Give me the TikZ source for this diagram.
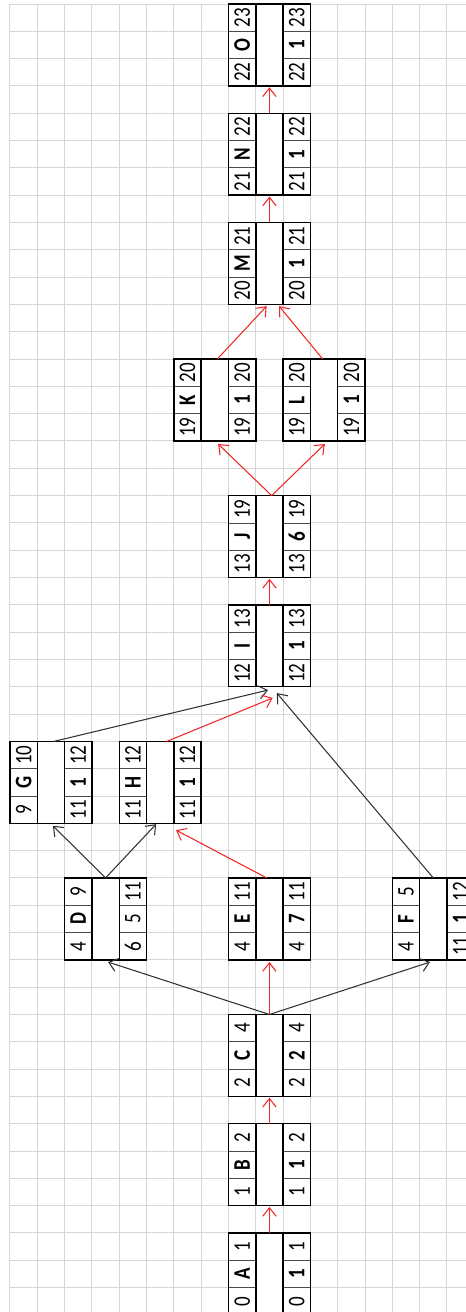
\documentclass[tikz,border=0pt]{standalone}
\usepackage{fontspec}
\setmainfont{Carlito}
\usetikzlibrary{arrows.meta,calc}
\definecolor{critred}{RGB}{240,40,40}
\definecolor{gridgray}{RGB}{214,214,214}
\newcommand\vt[1]{\scalebox{0.92}[1.15]{#1}}
\newcommand\actbox[9]{%
  \node[actbox] (#1) at (#2+1.5,#3+1.5) {};
  \draw[innerthin] (#2,#3+1) -- (#2+1,#3+1) (#2,#3+2) -- (#2+1,#3+2)
                   (#2+2,#3+1) -- (#2+3,#3+1) (#2+2,#3+2) -- (#2+3,#3+2);
  \draw[innerthick] (#2+1,#3) -- (#2+1,#3+3) (#2+2,#3) -- (#2+2,#3+3);
  \draw[outerline] (#1.north west) rectangle (#1.south east);
  \node[val] (#1-es) at (#2+0.5,#3+2.5) {\vt{#4}};
  \node[val,font=\valfont\bfseries] (#1-nm) at (#2+0.5,#3+1.5) {\vt{#1}};
  \node[val] (#1-ef) at (#2+0.5,#3+0.5) {\vt{#5}};
  \node[val] (#1-ls) at (#2+2.5,#3+2.5) {\vt{#6}};
  \node[val,#9] (#1-du) at (#2+2.5,#3+1.5) {\vt{#7}};
  \node[val] (#1-lf) at (#2+2.5,#3+0.5) {\vt{#8}};
}
\newcommand\valfont{\fontsize{15.5}{15.5}\selectfont}
\begin{document}
\begin{tikzpicture}[x=20.4825pt,y=-20.4825pt,
  gridline/.style={draw=gridgray,line width=0.75pt},
  actbox/.style={fill=white,draw=none,minimum width=61.4475pt,minimum height=61.4475pt,inner sep=0pt,outer sep=0pt},
  outerline/.style={draw=black,line width=1.1pt},
  innerthick/.style={draw=black,line width=1.1pt},
  innerthin/.style={draw=black!70,line width=0.6pt},
  val/.style={rotate=90,inner sep=0pt,font=\valfont},
  bold/.style={font=\valfont\bfseries},
  plain/.style={},
  crit/.style={draw=critred,line width=0.8pt,-{Straight Barb[length=6.3pt,width=10pt,line width=0.8pt]}},
  norm/.style={draw=black!80,line width=0.8pt,-{Straight Barb[length=6.3pt,width=10pt,line width=0.8pt]}}]
\useasboundingbox (-0.36617,-0.14647) rectangle (16.6972,47.8946);
% grid
\foreach \k in {0,...,16} \draw[gridline] (\k,0) -- (\k,47.9);
\foreach \j in {0,...,47} \draw[gridline] (0,\j) -- (16.7,\j);
% boxes
\actbox{A}{8}{45}{0}{1}{0}{1}{1}{bold}
\actbox{B}{8}{41}{1}{2}{1}{1}{2}{bold}
\actbox{C}{8}{37}{2}{4}{2}{2}{4}{bold}
\actbox{D}{2}{32}{4}{9}{6}{5}{11}{plain}
\actbox{E}{8}{32}{4}{11}{4}{7}{11}{bold}
\actbox{F}{14}{32}{4}{5}{11}{1}{12}{bold}
\actbox{G}{0}{27}{9}{10}{11}{1}{12}{bold}
\actbox{H}{4}{27}{11}{12}{11}{1}{12}{bold}
\actbox{I}{8}{22}{12}{13}{12}{1}{13}{bold}
\actbox{J}{8}{18}{13}{19}{13}{6}{19}{bold}
\actbox{K}{6}{13}{19}{20}{19}{1}{20}{bold}
\actbox{L}{10}{13}{19}{20}{19}{1}{20}{bold}
\actbox{M}{8}{8}{20}{21}{20}{1}{21}{bold}
\actbox{N}{8}{4}{21}{22}{21}{1}{22}{bold}
\actbox{O}{8}{0}{22}{23}{22}{1}{23}{bold}
% connector end points
\coordinate (cd) at (3.59,35.08);
\coordinate (ce) at (9.5,35.08);
\coordinate (cf) at (15.38,35.08);
\coordinate (dg) at (1.57,30.09);
\coordinate (dh) at (5.35,30.03);
\coordinate (eh0) at (9.4,32);
\coordinate (eh) at (6.08,30.25);
\coordinate (gi0) at (1.61,27);
\coordinate (gi) at (9.45,25.12);
\coordinate (hi0) at (5.74,27);
\coordinate (hi) at (9.62,25.41);
\coordinate (fi) at (9.77,25.23);
\coordinate (j0) at (9.58,18);
\coordinate (jk) at (7.62,16.11);
\coordinate (jl) at (11.53,16.11);
\coordinate (km0) at (7.59,13);
\coordinate (km) at (9.4,11.06);
\coordinate (lm0) at (11.45,13);
\coordinate (lm) at (9.85,11.06);
% connectors
\draw[crit,shorten >=1pt] (A.north) -- (B.south);
\draw[crit,shorten >=1pt] (B.north) -- (C.south);
\draw[norm] (C.north) -- (cd);
\draw[crit] (C.north) -- (ce);
\draw[norm] (C.north) -- (cf);
\draw[norm] (D.north) -- (dg);
\draw[norm] (D.north) -- (dh);
\draw[crit] (eh0) -- (eh);
\draw[norm] (gi0) -- (gi);
\draw[crit] (hi0) -- (hi);
\draw[norm] (F.north) -- (fi);
\draw[crit,shorten >=1pt] (I.north) -- (J.south);
\draw[crit] (j0) -- (jk);
\draw[crit] (j0) -- (jl);
\draw[crit] (km0) -- (km);
\draw[crit] (lm0) -- (lm);
\draw[crit,shorten >=1pt] (M.north) -- (N.south);
\draw[crit,shorten >=1pt] (N.north) -- (O.south);
\end{tikzpicture}
\end{document}
